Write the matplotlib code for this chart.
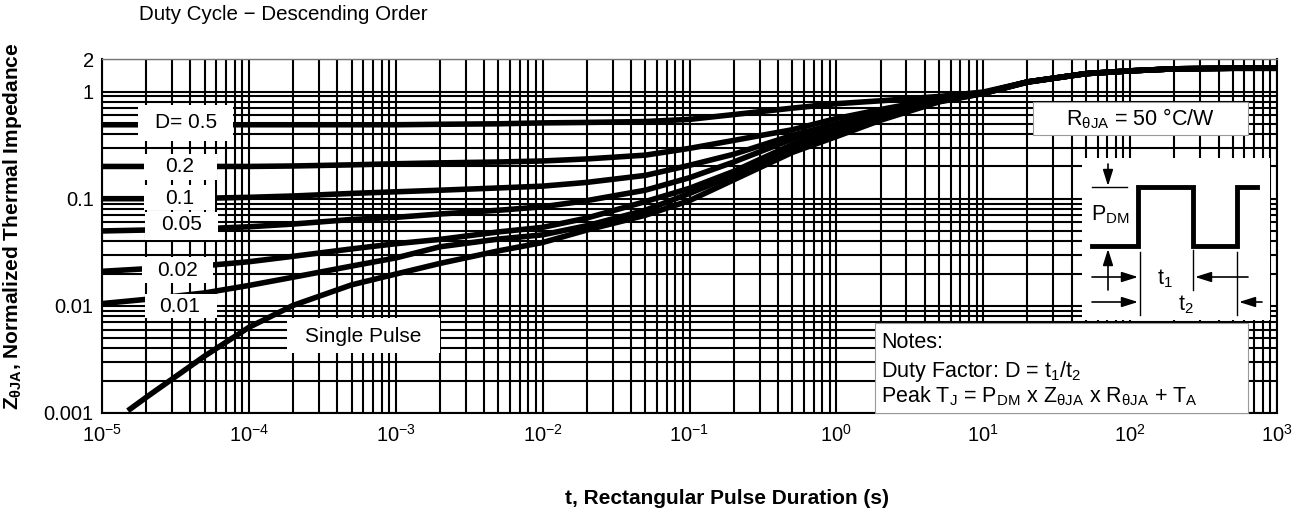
import numpy as np
import matplotlib
matplotlib.use("Agg")
import matplotlib.pyplot as plt
from matplotlib.patches import Rectangle
from matplotlib.ticker import FixedLocator, LogLocator, NullFormatter

plt.rcParams['font.family'] = ['Liberation Sans', 'DejaVu Sans']
plt.rcParams['mathtext.fontset'] = 'custom'
plt.rcParams['mathtext.rm'] = 'Liberation Sans'
plt.rcParams['mathtext.it'] = 'Liberation Sans:italic'
plt.rcParams['mathtext.bf'] = 'Liberation Sans:bold'

# pulse duration (s) and normalized thermal impedance
t = [1e-5, 2e-5, 5e-5, 1e-4, 2e-4, 5e-4, 1e-3, 2e-3, 5e-3, 1e-2, 2e-2, 5e-2,
     0.1, 0.2, 0.5, 1, 2, 5, 10, 20, 50, 100, 200, 500, 1000]
d050 = [0.49, 0.49, 0.49, 0.49, 0.49, 0.49, 0.49, 0.495, 0.50, 0.51, 0.515, 0.525,
        0.55, 0.61, 0.70, 0.77, 0.82, 0.90, 0.99, 1.23, 1.47, 1.56, 1.63, 1.65, 1.65]
d020 = [0.20, 0.20, 0.20, 0.20, 0.202, 0.207, 0.212, 0.216, 0.220, 0.225, 0.235, 0.255,
        0.295, 0.35, 0.44, 0.56, 0.68, 0.86, 0.97, 1.23, 1.47, 1.56, 1.63, 1.65, 1.65]
d010 = [0.100, 0.100, 0.101, 0.103, 0.106, 0.112, 0.116, 0.120, 0.126, 0.131, 0.142, 0.165,
        0.205, 0.26, 0.39, 0.50, 0.63, 0.84, 0.97, 1.23, 1.47, 1.56, 1.63, 1.65, 1.65]
d005 = [0.050, 0.051, 0.0525, 0.0547, 0.058, 0.064, 0.067, 0.072, 0.078, 0.084, 0.096, 0.120,
        0.157, 0.22, 0.36, 0.47, 0.61, 0.83, 0.97, 1.23, 1.47, 1.56, 1.63, 1.65, 1.65]
d002 = [0.021, 0.0222, 0.0237, 0.0258, 0.029, 0.034, 0.038, 0.0417, 0.049, 0.054, 0.066, 0.094,
        0.125, 0.18, 0.32, 0.44, 0.59, 0.82, 0.96, 1.23, 1.47, 1.56, 1.63, 1.65, 1.65]
d001 = [0.0105, 0.0115, 0.0132, 0.0155, 0.0185, 0.0235, 0.028, 0.0356, 0.042, 0.046, 0.056, 0.078,
        0.112, 0.165, 0.30, 0.42, 0.57, 0.81, 0.96, 1.23, 1.47, 1.56, 1.63, 1.65, 1.65]
t_single = [1.5e-5, 2e-5, 5e-5, 1e-4, 2e-4, 5e-4, 1e-3, 2e-3, 5e-3, 1e-2, 2e-2, 5e-2,
            0.1, 0.2, 0.5, 1, 2, 5, 10, 20, 50, 100, 200, 500, 1000]
single = [0.00105, 0.0014, 0.0034, 0.0063, 0.0101, 0.0157, 0.0198, 0.0249, 0.0326, 0.039, 0.051, 0.070,
          0.096, 0.15, 0.27, 0.38, 0.54, 0.80, 0.96, 1.22, 1.47, 1.56, 1.63, 1.65, 1.65]

xticks = [1e-5, 1e-4, 1e-3, 1e-2, 1e-1, 1, 10, 100, 1000]
xlabels = [r'$10^{-5}$', r'$10^{-4}$', r'$10^{-3}$', r'$10^{-2}$', r'$10^{-1}$',
           r'$10^{0}$', r'$10^{1}$', r'$10^{2}$', r'$10^{3}$']
yticks = [0.001, 0.01, 0.1, 1, 2]
ylabels = ['0.001', '0.01', '0.1', '1', '2']

W, H = 1300, 508
fig = plt.figure(figsize=(W / 100, H / 100), dpi=100)

def fx(px):
    return px / W

def fy(py):
    return 1 - py / H

def box(x0, y0, x1, y1, ec='none', lw=0.8):
    # white label box, given in figure pixels from top-left
    r = Rectangle((fx(x0), fy(y1)), (x1 - x0) / W, (y1 - y0) / H, transform=fig.transFigure,
                  facecolor='white', edgecolor=ec, linewidth=lw, zorder=5)
    fig.add_artist(r)

ax = fig.add_axes([fx(102), fy(413), (1277 - 102) / W, (413 - 59.3) / H])
ax.set_xscale('log')
ax.set_yscale('log')
ax.set_xlim(1e-5, 1e3)
ax.set_ylim(1e-3, 2)

for vals in [d050, d020, d010, d005, d002, d001]:
    ax.plot(t, vals, color='black', lw=4, solid_capstyle='butt', zorder=3)
ax.plot(t_single, single, color='black', lw=4, solid_capstyle='butt', zorder=3)

ax.xaxis.set_major_locator(FixedLocator(xticks))
ax.set_xticklabels(xlabels)
ax.xaxis.set_minor_locator(LogLocator(base=10, subs=np.arange(2, 10), numticks=100))
ax.xaxis.set_minor_formatter(NullFormatter())
ax.yaxis.set_major_locator(FixedLocator(yticks))
ax.set_yticklabels(ylabels)
ax.yaxis.set_minor_locator(LogLocator(base=10, subs=np.arange(2, 10), numticks=100))
ax.yaxis.set_minor_formatter(NullFormatter())
ax.tick_params(which='both', length=0, labelsize=14.5, colors='black')
ax.tick_params(axis='x', pad=8)
ax.tick_params(axis='y', pad=6)
ax.grid(True, which='both', color='black', lw=1.5)

for s in ['left', 'bottom', 'right']:
    ax.spines[s].set_linewidth(1.5)
ax.spines['top'].set_color('#777777')
ax.spines['top'].set_linewidth(1.0)

# duty cycle labels
lab = dict(fontsize=15, ha='center', va='center', zorder=6)
box(138, 105, 233, 141)
fig.text(fx(186), fy(123), 'D= 0.5', **lab)
box(144, 154, 217, 180)
fig.text(fx(180), fy(166), '0.2', **lab)
box(144, 185, 215, 210)
fig.text(fx(180), fy(198), '0.1', **lab)
box(145, 212, 218, 240)
fig.text(fx(182), fy(225), '0.05', **lab)
box(142, 257, 213, 283)
fig.text(fx(177), fy(270), '0.02', **lab)
box(145, 294, 217, 318)
fig.text(fx(180), fy(306), '0.01', **lab)
box(287, 318, 440, 353)
fig.text(fx(363), fy(336), 'Single Pulse', **lab)

box(1033, 102, 1248, 135, ec='#999999')
fig.text(fx(1140), fy(119), r'R$_\mathrm{θJA}$ = 50 °C/W', fontsize=15.5, ha='center', va='center', zorder=6)

box(875, 323, 1248, 413, ec='#999999')
note = dict(fontsize=15.5, ha='left', va='center', zorder=6)
fig.text(fx(881), fy(342), 'Notes:', **note)
fig.text(fx(881), fy(371), r'Duty Factor: D = t$_1$/t$_2$', **note)
fig.text(fx(881), fy(396), r'Peak T$_\mathrm{J}$ = P$_\mathrm{DM}$ x Z$_\mathrm{θJA}$ x R$_\mathrm{θJA}$ + T$_\mathrm{A}$', **note)

# pulse sketch inset
ins = fig.add_axes([fx(1082), fy(320), (1270 - 1082) / W, (320 - 158) / H], zorder=6)
ins.set_xlim(0, 188)
ins.set_ylim(162, 0)
ins.axis('off')
ins.add_patch(Rectangle((0, 0), 188, 162, facecolor='white', edgecolor='none'))
ins.plot([10, 56, 56, 111, 111, 155, 155, 175], [88, 88, 29, 29, 88, 88, 29, 29],
         color='black', lw=3.5, solid_joinstyle='miter')
ins.plot([10, 45], [29, 29], color='black', lw=1)
ins.plot([58, 58], [94, 157], color='black', lw=1)
ins.plot([111, 111], [92, 132], color='black', lw=1)
ins.plot([155, 155], [94, 157], color='black', lw=1)
arr = dict(arrowstyle='-|>,head_length=0.7,head_width=0.22', color='black', lw=1.2,
           shrinkA=0, shrinkB=0, mutation_scale=14)
ins.annotate('', xy=(26, 28), xytext=(26, 6), arrowprops=arr)
ins.annotate('', xy=(26, 91), xytext=(26, 132), arrowprops=arr)
ins.annotate('', xy=(56, 119), xytext=(10, 119), arrowprops=arr)
ins.annotate('', xy=(113, 119), xytext=(166, 119), arrowprops=arr)
ins.annotate('', xy=(56, 144), xytext=(10, 144), arrowprops=arr)
ins.annotate('', xy=(157, 144), xytext=(180, 144), arrowprops=arr)
ins.text(9, 57, r'P$_\mathrm{DM}$', fontsize=15.5, ha='left', va='center')
ins.text(83, 121, r't$_1$', fontsize=15.5, ha='center', va='center')
ins.text(104, 147, r't$_2$', fontsize=15.5, ha='center', va='center')

fig.text(fx(139), fy(14), 'Duty Cycle \u2212 Descending Order', fontsize=14.8, ha='left', va='center')
fig.text(fx(13), fy(226), r'Z$_\mathbf{θJA}$, Normalized Thermal Impedance', rotation=90,
         fontsize=15, fontweight='bold', ha='center', va='center')
fig.text(fx(727), fy(498), 't, Rectangular Pulse Duration (s)', fontsize=15,
         fontweight='bold', ha='center', va='center')

fig.savefig('out.png', dpi=100)
